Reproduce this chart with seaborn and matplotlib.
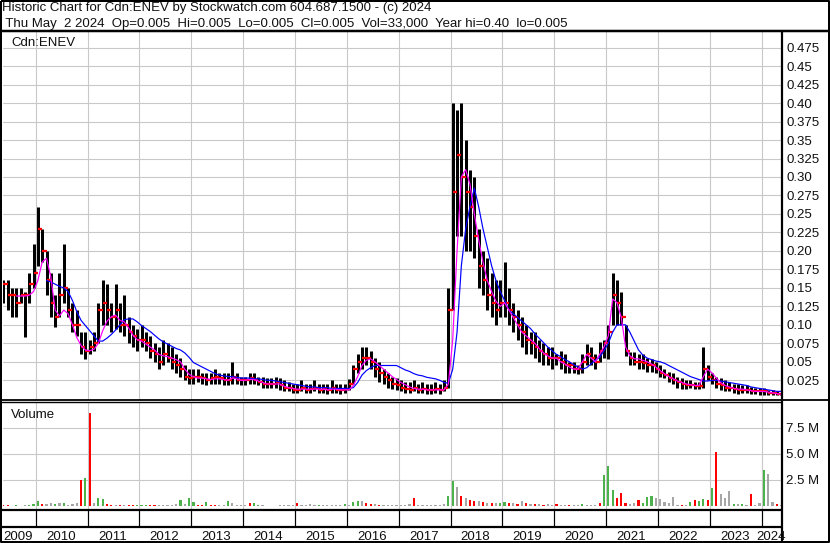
import numpy as np
import pandas as pd
import matplotlib
matplotlib.use("Agg")
import matplotlib.pyplot as plt
import seaborn as sns

nan = float("nan")

# monthly bars, May 2009 .. May 2024
first_year, first_month = 2009, 5

high = [
    .16, .16, .15, .15, .15, .145, .17, .21,                               # 2009 May-Dec
    .26, .23, .20, .17, .14, .17, .21, .15, .13, .12, .09, .09,             # 2010
    .08, .09, .13, .16, .155, .13, .155, .13, .14, .11, .10, .095,          # 2011
    .10, .09, .085, .075, .07, .08, .075, .07, .06, .055, .045, .04,        # 2012
    .04, .04, .035, .035, .035, .04, .035, .035, .035, .05, .035, .03,      # 2013
    .03, .035, .035, .03, .03, .028, .028, .03, .028, .025, .022, .02,      # 2014
    .02, .025, .02, .02, .025, .02, .02, .02, .025, .02, .02, .02,          # 2015
    .027, .045, .06, .07, .07, .065, .055, .05, .04, .035, .03, .028,       # 2016
    .025, .022, .022, .025, .02, .022, .02, .02, .022, .02, .025, .15,      # 2017
    .40, .39, .40, .35, .31, .30, .23, .20, .19, .17, .16, .16,             # 2018
    .185, .15, .13, .12, .11, .10, .09, .09, .08, .075, .07, .07,           # 2019
    .06, .065, .06, .05, .05, .045, .06, .074, .07, .06, .077, .08,         # 2020
    .10, .17, .16, .144, .10, .063, .063, .06, .06, .055, .054, .05,        # 2021
    .045, .04, .036, .035, .03, .028, .025, .025, .022, .022, .07, .045,    # 2022
    .035, .03, .028, .025, .022, .02, .02, .018, .018, .016, .015, .015,    # 2023
    .015, .012, .012, .01, .008,                                            # 2024
]
low = [
    .13, .12, .11, .11, .13, .083, .13, .15,
    .18, .185, .14, .11, .097, .11, .13, .11, .09, .085, .06, .054,
    .06, .065, .075, .10, .10, .09, .095, .09, .085, .075, .07, .065,
    .07, .065, .055, .05, .04, .045, .05, .04, .035, .03, .025, .02,
    .02, .022, .02, .018, .02, .02, .02, .018, .018, .02, .02, .018,
    .018, .02, .02, .018, .015, .015, .015, .015, .012, .01, .01, .008,
    .008, .01, .008, .008, .01, .008, .008, .006, .008, .008, .006, .008,
    .012, .02, .035, .04, .045, .04, .03, .022, .02, .015, .013, .012,
    .01, .008, .008, .01, .008, .008, .006, .006, .008, .006, .01, .015,
    .12, .22, .22, .20, .20, .19, .15, .14, .12, .11, .10, .11,
    .11, .10, .09, .08, .07, .06, .06, .055, .05, .045, .045, .04,
    .045, .04, .035, .035, .035, .033, .035, .045, .045, .04, .05, .055,
    .054, .10, .10, .10, .058, .045, .045, .04, .04, .036, .036, .035,
    .03, .028, .022, .02, .015, .013, .013, .015, .013, .013, .015, .025,
    .02, .015, .012, .01, .01, .008, .007, .008, .008, .006, .006, .005,
    .005, .005, .005, .005, .005,
]
close = [
    .155, .14, .14, .13, .14, .14, .155, .17,
    .23, .20, .16, .13, .11, .14, .15, .12, .10, .10, .07, .065,
    .07, .075, .12, .13, .12, .11, .12, .10, .10, .09, .085, .08,
    .08, .075, .065, .06, .05, .06, .055, .05, .045, .04, .03, .028,
    .03, .03, .028, .025, .028, .03, .028, .025, .025, .03, .025, .025,
    .025, .028, .025, .022, .02, .02, .02, .022, .018, .015, .015, .012,
    .012, .015, .012, .013, .015, .012, .013, .012, .015, .012, .012, .013,
    .02, .04, .05, .055, .055, .05, .04, .035, .03, .025, .02, .018,
    .015, .013, .012, .015, .012, .013, .012, .012, .013, .012, .015, .12,
    .28, .33, .30, .28, .26, .22, .18, .16, .14, .13, .12, .13,
    .13, .12, .11, .10, .09, .08, .075, .07, .065, .06, .055, .055,
    .055, .05, .045, .045, .04, .04, .05, .06, .055, .05, .065, .075,
    .09, .14, .13, .11, .065, .055, .05, .05, .048, .045, .045, .04,
    .035, .032, .028, .025, .022, .02, .018, .018, .017, .017, .04, .03,
    .025, .02, .018, .015, .015, .013, .012, .012, .012, .01, .01, .01,
    .01, .008, .008, .006, .005,
]
# short moving average (magenta)
ma_fast = [
    nan, nan, nan, .139, .139, .139, .14, .145,
    .16, .185, .19, .165, .12, .112, .12, .115, .10, .083, .072, .066,
    .065, .067, .075, .092, .105, .111, .113, .106, .104, .096, .086, .08,
    .078, .074, .07, .066, .06, .058, .057, .055, .053, .05, .04, .033,
    .03, .028, .028, .027, .026, .027, .027, .026, .025, .028, .027, .025,
    .025, .026, .026, .024, .022, .02, .02, .02, .02, .017, .015, .014,
    .013, .013, .013, .013, .013, .013, .013, .012, .013, .013, .012, .012,
    .012, .018, .03, .045, .052, .054, .05, .045, .04, .035, .03, .026,
    .022, .019, .016, .014, .013, .013, .012, .012, .012, .012, .012, .02,
    .08, .20, .30, .31, .29, .25, .215, .185, .16, .145, .132, .125,
    .13, .12, .11, .10, .09, .085, .08, .075, .068, .062, .058, .055,
    .055, .05, .047, .043, .04, .04, .05, .06, .055, .05, .06, .07,
    .085, .135, .13, .11, .07, .058, .054, .054, .052, .05, .047, .043,
    .038, .034, .03, .027, .024, .022, .02, .019, .018, .018, .03, .04,
    .035, .028, .022, .018, .016, .014, .013, .013, .012, .011, .01, .01,
    .01, .009, .008, .007, .006,
]
# long moving average (blue)
ma_slow = [
    nan, nan, nan, nan, nan, nan, nan, nan,
    nan, nan, .16, .158, .155, .152, .15, .145, .133, .118, .106, .099,
    .092, .085, .078, .078, .082, .087, .093, .10, .107, .108, .108, .104,
    .099, .095, .091, .086, .081, .077, .074, .071, .068, .066, .062, .056,
    .049, .046, .043, .04, .037, .034, .032, .031, .03, .03, .029, .028,
    .028, .028, .027, .027, .026, .025, .025, .024, .023, .022, .021, .02,
    .019, .018, .017, .016, .016, .015, .015, .015, .014, .014, .014, .014,
    .014, .015, .022, .032, .038, .042, .045, .045, .045, .045, .045, .045,
    .042, .039, .037, .034, .032, .031, .029, .028, .027, .025, .022, .021,
    .04, .09, .18, .23, .26, .285, .26, .23, .205, .18, .16, .145,
    .133, .12, .115, .11, .105, .10, .095, .088, .082, .076, .07, .065,
    .06, .057, .053, .05, .046, .043, .04, .042, .047, .052, .056, .065,
    .075, .09, .10, .10, .10, .09, .078, .066, .059, .055, .053, .051,
    .05, .048, .045, .042, .039, .036, .033, .03, .028, .026, .024, .024,
    .025, .025, .024, .023, .022, .021, .02, .019, .018, .016, .015, .014,
    .013, .012, .011, .01, .01,
]
# volume in millions of shares
volume = [
    .05, .05, .03, .05, .03, .05, .10, .15,
    .5, .2, .15, .25, .2, .3, .25, .1, .2, .3, 2.5, 2.7,
    8.9, .3, .8, .7, .2, .1, .1, .08, .05, .1, .1, .12,
    .1, .1, .05, .05, .05, .05, .08, .1, .2, .55, .2, .8,
    .35, .1, .05, .4, .05, .05, .05, .05, .5, .3, .1, .1,
    .05, .3, .3, .05, .05, .03, .03, .03, .05, .05, .05, .1,
    .3, .1, .1, .2, .1, .1, .1, .05, .1, .1, .1, .2,
    .1, .4, .5, .5, .3, .2, .2, .1, .1, .1, .1, .1,
    .1, .1, .2, .8, .1, .1, .1, .1, .1, .1, .2, 1.0,
    2.4, 1.8, 1.0, .8, .6, .5, .5, .4, .3, .3, .3, .3,
    .4, .3, .3, .2, .5, .3, .2, .2, .2, .1, .2, .1,
    .2, .1, .1, .1, .1, .1, .2, .1, .1, .1, .3, 3.0,
    3.8, 1.5, .8, 1.25, .3, .2, .3, .6, .3, .9, 1.0, .8,
    .65, .35, .3, .85, .1, .1, .1, .4, .55, .45, .7, .55,
    1.7, 5.2, 1.2, .8, 1.45, .2, .2, .15, .1, 1.15, .1, .25,
    3.45, 3.05, .4, .15, .1,
]
# g = up, r = down, n = unchanged
vol_dir = ("rrngrngg" "grnngngnnnrg" "rnggrrnrnrrg" "ggrrnnnnngng" "grrgrrnngnnn"
           "nrggnnnnnnnn" "rnnnngnnnnng" "nggnrrnrnnnn" "nnnrnnnnnnng" "gnrnrrnrnrng"
           "grnrnrnrnrnn" "rnnrnngnnnrg" "ggrrrnnrgggn" "nnnnnrngrggr" "grnnngngnrnn"
           "gnnrn")

price_ticks = [0.025 * i for i in range(1, 20)]
price_tick_labels = ["0.025", "0.05", "0.075", "0.10", "0.125", "0.15", "0.175", "0.20",
                     "0.225", "0.25", "0.275", "0.30", "0.325", "0.35", "0.375", "0.40",
                     "0.425", "0.45", "0.475"]
vol_ticks = [2.5, 5.0, 7.5]
vol_tick_labels = ["2.5 M", "5.0 M", "7.5 M"]
years = list(range(2009, 2025))

title1 = "Historic Chart for Cdn:ENEV by Stockwatch.com 604.687.1500 - (c) 2024"
title2 = (" Thu May  2 2024  Op=0.005  Hi=0.005  Lo=0.005  Cl=0.005  "
          "Vol=33,000  Year hi=0.40  lo=0.005")

n = len(close)
assert all(len(a) == n for a in (high, low, ma_fast, ma_slow, volume, vol_dir))

t = first_year + (np.arange(n) + first_month - 1 + 0.5) / 12
df = pd.DataFrame({"t": t, "high": high, "low": low, "close": close,
                   "fast": ma_fast, "slow": ma_slow, "vol": volume,
                   "dir": list(vol_dir)})
df["open"] = df["close"].shift(1).fillna(df["close"])

sns.set_theme(style="white")
plt.rcParams["font.family"] = ["Liberation Sans", "DejaVu Sans"]

W, H = 830, 543
PT = 0.72  # points per pixel at dpi 100
fig = plt.figure(figsize=(W / 100, H / 100), dpi=100)
fig.patch.set_facecolor("white")


def box(x0, y0, x1, y1):
    return [x0 / W, 1 - y1 / H, (x1 - x0) / W, (y1 - y0) / H]


# x range: 2010 boundary at px 35.7, 51.86 px per year
x_left = 2010 - (35.7 - 3) / 51.86
x_right = 2024 + (782 - 761.7) / 51.86
grid_kw = dict(color="#c8c8c8", lw=1.1 * PT, zorder=0)
txt = "#101010"
fs = 9.5

ax_p = fig.add_axes(box(3, 31, 782, 399.5))
ax_v = fig.add_axes(box(3, 402, 782, 509))
ax_b = fig.add_axes(box(3, 509, 782, 527))

for ax in (ax_p, ax_v, ax_b):
    ax.set_facecolor("white")
    ax.set_xlim(x_left, x_right)
    for s in ax.spines.values():
        s.set_visible(False)
    ax.set_xticks([])

# price panel
for v in price_ticks:
    ax_p.axhline(v, **grid_kw)
for y in years[1:]:
    ax_p.axvline(y, **grid_kw)
dx = 3.0 / 51.86
ax_p.vlines(df["t"], df["low"], df["high"], color="black", lw=3.0 * PT, zorder=2)
ax_p.hlines(df["open"], df["t"] - dx, df["t"], color="red", lw=2.2 * PT, zorder=3)
ax_p.hlines(df["close"], df["t"], df["t"] + dx, color="red", lw=2.2 * PT, zorder=3)
sns.lineplot(data=df, x="t", y="slow", color="blue", lw=1.2 * PT, ax=ax_p, zorder=4)
sns.lineplot(data=df, x="t", y="fast", color="magenta", lw=1.2 * PT, ax=ax_p, zorder=5)
ax_p.set_xlim(x_left, x_right)
ax_p.set_ylim(-0.001, 0.4975)
ax_p.set_xlabel("")
ax_p.set_ylabel("")
ax_p.set_xticks([])
ax_p.set_yticks(price_ticks)
ax_p.set_yticklabels(price_tick_labels)
ax_p.tick_params(axis="y", left=False, right=False, labelleft=False, labelright=True,
                 length=0, pad=4 * PT, labelsize=fs, labelcolor=txt)
ax_p.text(8 / 779, 1 - (45.5 - 31) / 368.5, "Cdn:ENEV", transform=ax_p.transAxes,
          fontsize=fs, va="baseline", ha="left", color=txt)

# volume panel
for v in vol_ticks:
    ax_v.axhline(v, **grid_kw)
for y in years[1:]:
    ax_v.axvline(y, **grid_kw)
sns.barplot(data=df, x="t", y="vol", hue="dir", native_scale=True, dodge=False,
            width=0.5, palette={"g": "#4cb34c", "r": "#ff0000", "n": "#a6a6a6"},
            saturation=1, linewidth=0, legend=False, errorbar=None, ax=ax_v, zorder=2)
ax_v.set_xlim(x_left, x_right)
ax_v.set_ylim(-0.29, 10.0)
ax_v.set_xlabel("")
ax_v.set_ylabel("")
ax_v.set_xticks([])
ax_v.set_yticks(vol_ticks)
ax_v.set_yticklabels(vol_tick_labels)
ax_v.tick_params(axis="y", left=False, right=False, labelleft=False, labelright=True,
                 length=0, pad=4 * PT, labelsize=fs, labelcolor=txt)
ax_v.text(8 / 779, 1 - (418 - 402) / 107, "Volume", transform=ax_v.transAxes,
          fontsize=fs, va="baseline", ha="left", color=txt)

# blank row with year separators
ax_b.set_ylim(0, 1)
ax_b.set_yticks([])
for y in years[1:]:
    ax_b.axvline(y, color="black", lw=1.2 * PT)

# frame lines, header and year labels in pixel space
ax_o = fig.add_axes([0, 0, 1, 1])
ax_o.set_xlim(0, W)
ax_o.set_ylim(H, 0)
ax_o.axis("off")
ax_o.patch.set_alpha(0)
line_kw = dict(color="black", solid_capstyle="butt")
ax_o.plot([1, W - 1, W - 1, 1, 1], [1, 1, 541.5, 541.5, 1], lw=2 * PT, **line_kw)
ax_o.plot([0, W], [30.5, 30.5], lw=2.5 * PT, **line_kw)
ax_o.plot([782, 782], [30.5, 542], lw=2.2 * PT, **line_kw)
ax_o.plot([0, W], [399.8, 399.8], lw=1.8 * PT, **line_kw)
ax_o.plot([0, 782], [402.3, 402.3], lw=1.4 * PT, **line_kw)
ax_o.plot([0, 782], [509.5, 509.5], lw=2.2 * PT, **line_kw)
ax_o.plot([0, 782], [527, 527], lw=2.2 * PT, **line_kw)

ax_o.text(2, 11.5, title1, fontsize=fs, va="baseline", ha="left", color=txt)
ax_o.text(2, 26.8, title2, fontsize=fs, va="baseline", ha="left", color=txt)

for y in years:
    a = max(y, x_left)
    b = min(y + 1, x_right)
    cx = 2 + ((a + b) / 2 - x_left) * 51.86
    ax_o.text(cx, 539.5, str(y), fontsize=fs, ha="center", va="baseline", color=txt)

fig.savefig("out.png", dpi=100)
